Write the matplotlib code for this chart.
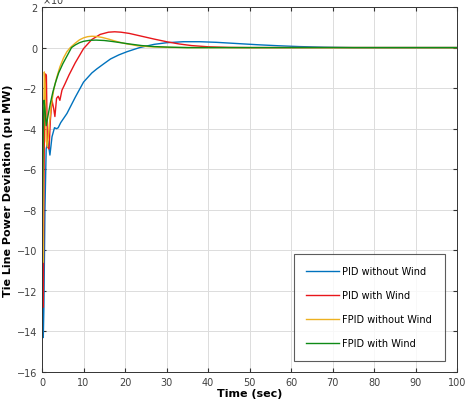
import matplotlib.pyplot as plt

# ---------------- data (y in units of 1e-3 pu MW) ----------------
t_pid = [0, 0.15, 0.3, 0.45, 0.7, 1.0, 1.4, 1.9, 2.4, 3.0, 3.5, 3.9, 4.5, 5.0, 6.0,
         7.0, 8.0, 10.0, 12.0, 13.2, 15.0, 16.5, 18.5, 20.5, 23.5, 27.0, 30.0,
         34.0, 38.0, 42.0, 47.0, 52.0, 57.0, 62.0, 68.0, 75.0, 85.0, 100.0]
pid_no_wind = [0, -13.0, -14.3, -12.8, -8.0, -5.0, -4.6, -5.3, -4.4, -3.95, -4.0, -3.95,
               -3.7, -3.55, -3.25, -2.85, -2.45, -1.7, -1.25, -1.05, -0.78, -0.56, -0.36,
               -0.2, 0.0, 0.16, 0.24, 0.29, 0.29, 0.26, 0.2, 0.14, 0.09, 0.05, 0.02, 0.0, 0.0, 0.0]

t_pid_w = [0, 0.15, 0.3, 0.45, 0.65, 0.85, 1.05, 1.3, 1.7, 2.0, 2.4, 2.8, 3.1, 3.5, 3.9,
           4.3, 4.8, 5.5, 6.5, 8.0, 10.0, 12.0, 14.0, 16.0, 17.5, 19.0, 21.0, 24.0,
           27.0, 30.0, 33.0, 36.0, 40.0, 45.0, 50.0, 60.0, 100.0]
pid_wind = [0, -10.5, -12.8, -7.0, -2.5, -1.3, -1.4, -4.9, -5.0, -3.6, -2.6, -3.0, -3.4,
            -2.5, -2.4, -2.6, -2.1, -1.8, -1.35, -0.75, -0.05, 0.4, 0.65, 0.76, 0.78,
            0.76, 0.7, 0.56, 0.42, 0.29, 0.18, 0.1, 0.04, 0.01, 0.0, 0.0, 0.0]

t_fpid = [0, 0.1, 0.2, 0.35, 0.55, 0.75, 1.0, 1.3, 1.7, 2.2, 2.8, 3.5, 4.3, 5.2, 6.0,
          6.8, 8.0, 9.0, 10.0, 11.0, 12.0, 13.0, 14.5, 16.0, 18.0, 20.0, 23.0, 26.0,
          30.0, 35.0, 100.0]
fpid_no_wind = [0, -8.8, -10.6, -4.0, -1.2, -1.8, -4.6, -4.9, -3.9, -2.9, -2.1, -1.5, -0.95,
                -0.5, -0.2, 0.0, 0.22, 0.38, 0.48, 0.54, 0.56, 0.55, 0.5, 0.42, 0.3, 0.2,
                0.09, 0.04, 0.01, 0.0, 0.0]

t_fpid_w = [0, 0.05, 0.15, 0.3, 0.5, 0.7, 1.0, 1.4, 2.0, 2.6, 3.2, 4.0, 5.0, 6.0, 7.1,
            8.0, 9.0, 10.0, 11.5, 13.0, 15.0, 17.0, 19.0, 21.0, 24.0, 27.0, 31.0,
            35.0, 100.0]
fpid_wind = [0, -8.8, -7.0, -4.0, -2.6, -3.0, -3.85, -3.4, -2.75, -2.2, -1.75, -1.25, -0.8,
             -0.42, 0.0, 0.13, 0.24, 0.31, 0.36, 0.37, 0.35, 0.3, 0.24, 0.18, 0.1, 0.05,
             0.02, 0.0, 0.0]

labels = ["PID without Wind", "PID with Wind", "FPID without Wind", "FPID with Wind"]
colors = ["#0072BD", "#E8161B", "#EDB120", "#0E8A16"]

# ---------------- figure ----------------
fig = plt.figure(figsize=(4.67, 4.02), dpi=100)
ax = fig.add_axes([0.090, 0.072, 0.889, 0.908])

ax.plot(t_pid, pid_no_wind, color=colors[0], lw=1.0, label=labels[0])
ax.plot(t_pid_w, pid_wind, color=colors[1], lw=1.0, label=labels[1])
ax.plot(t_fpid, fpid_no_wind, color=colors[2], lw=1.0, label=labels[2])
ax.plot(t_fpid_w, fpid_wind, color=colors[3], lw=1.0, label=labels[3])

ax.set_xlim(0, 100)
ax.set_ylim(-16, 2)
ax.set_xticks(range(0, 101, 10))
ax.set_yticks(range(-16, 3, 2))
ax.grid(True, color="#dcdcdc", lw=0.7)
ax.set_axisbelow(True)
ax.tick_params(direction="in", labelsize=7, colors="#333333", length=3,
               top=True, right=True, labelcolor="#404040")
for s in ax.spines.values():
    s.set_color("#333333")
    s.set_linewidth(0.7)

ax.set_xlabel("Time (sec)", fontsize=8, fontweight="bold", labelpad=1)
ax.set_ylabel("Tie Line Power Deviation (pu MW)", fontsize=8, fontweight="bold", labelpad=3)
ax.text(0.0, 1.003, r"$\times10^{-3}$", transform=ax.transAxes, fontsize=7,
        color="#404040", va="bottom", ha="left")

leg = ax.legend(loc="lower right", bbox_to_anchor=(0.97, 0.03), fontsize=7,
                frameon=True, fancybox=False, edgecolor="#333333", labelspacing=1.45,
                handlelength=3.4, borderpad=1.3, handletextpad=0.3, borderaxespad=0)
leg.get_frame().set_linewidth(0.8)

fig.savefig("out.png", dpi=100)
